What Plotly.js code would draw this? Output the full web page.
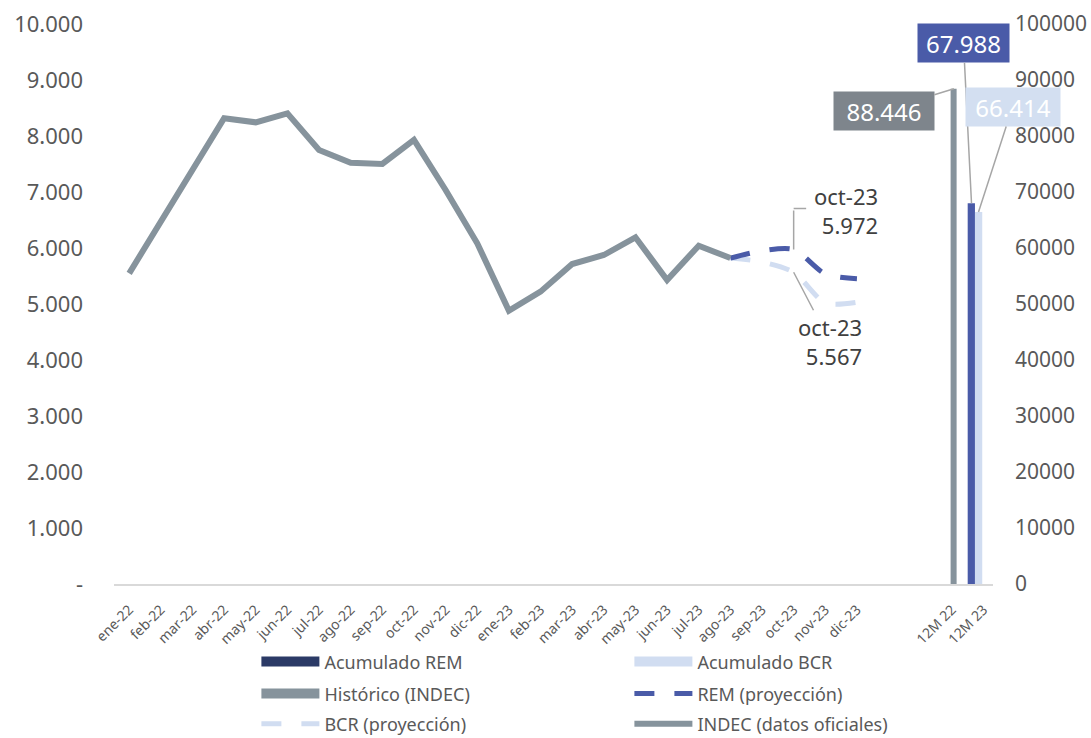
<!DOCTYPE html>
<html>
<head>
<meta charset="utf-8">
<script src="https://cdn.plot.ly/plotly-3.0.1.min.js"></script>
<style>
  html, body { margin: 0; padding: 0; background: #ffffff; }
  #chart { width: 1091px; height: 738px; }
</style>
</head>
<body>
<div id="chart"></div>
<script>
// ---------- data ----------
const months = ['ene-22','feb-22','mar-22','abr-22','may-22','jun-22','jul-22','ago-22','sep-22','oct-22','nov-22','dic-22',
                'ene-23','feb-23','mar-23','abr-23','may-23','jun-23','jul-23','ago-23','sep-23','oct-23','nov-23','dic-23'];
const gapCategories = [' ', '  '];
const barCategories = ['12M 22', '12M 23'];

const indecMonths = ['ene-22','feb-22','mar-22','abr-22','may-22','jun-22','jul-22','ago-22','sep-22','oct-22','nov-22','dic-22',
                     'ene-23','feb-23','mar-23','abr-23','may-23','jun-23','jul-23','ago-23'];
const indecValues = [5548, 6460, 7393, 8316, 8244, 8405, 7750, 7523, 7500, 7929, 7036, 6084,
                     4880, 5220, 5714, 5875, 6191, 5429, 6041, 5820];

const projMonths = ['ago-23','sep-23','oct-23','nov-23','dic-23'];
const remValues = [5820, 5950, 5972, 5536, 5450];
const bcrValues = [5820, 5750, 5567, 5020, 5030];

const historicoValues = [88446, null];
const acumREMValues  = [null, 67988];
const acumBCRValues  = [null, 66414];

const leftTickVals = [0, 1000, 2000, 3000, 4000, 5000, 6000, 7000, 8000, 9000, 10000];
const leftTickText = ['-', '1.000', '2.000', '3.000', '4.000', '5.000', '6.000', '7.000', '8.000', '9.000', '10.000'];
const rightTickVals = [0, 10000, 20000, 30000, 40000, 50000, 60000, 70000, 80000, 90000, 100000];

// ---------- helpers ----------
function fmt(v) { return String(v).replace(/\B(?=(\d{3})+(?!\d))/g, '.'); }

const C_GRAY = '#86939c';
const C_BLUE = '#4a5ba8';
const C_NAVY = '#2b3a66';
const C_LIGHT = '#d1ddf1';
const FONT = 'Noto Sans, Open Sans, sans-serif';

const traces = [
  // bars (right axis)
  { type: 'bar', name: 'Histórico (INDEC)', x: barCategories, y: historicoValues, yaxis: 'y2',
    marker: { color: C_GRAY }, offset: -0.04, width: 0.19, showlegend: false, hoverinfo: 'skip' },
  { type: 'bar', name: 'Acumulado REM', x: barCategories, y: acumREMValues, yaxis: 'y2',
    marker: { color: C_BLUE }, offset: -0.5, width: 0.23, showlegend: false, hoverinfo: 'skip' },
  { type: 'bar', name: 'Acumulado BCR', x: barCategories, y: acumBCRValues, yaxis: 'y2',
    marker: { color: C_LIGHT }, offset: -0.27, width: 0.23, showlegend: false, hoverinfo: 'skip' },

  // lines (left axis)
  { type: 'scatter', mode: 'lines', name: 'BCR (proyección)', x: projMonths, y: bcrValues,
    line: { color: C_LIGHT, width: 5, dash: '20px,20px', shape: 'spline', smoothing: 0.8 },
    legend: 'legend3', legendrank: 1, hoverinfo: 'skip' },
  { type: 'scatter', mode: 'lines', name: 'REM (proyección)', x: projMonths, y: remValues,
    line: { color: C_BLUE, width: 5, dash: '20px,20px', shape: 'spline', smoothing: 0.8 },
    legend: 'legend2', legendrank: 2, hoverinfo: 'skip' },
  { type: 'scatter', mode: 'lines', name: 'INDEC (datos oficiales)', x: indecMonths, y: indecValues,
    line: { color: C_GRAY, width: 6 }, legend: 'legend3', legendrank: 2, hoverinfo: 'skip' },

  // legend swatches for the bar series (wide rectangles, as in the reference)
  { type: 'scatter', mode: 'lines', name: 'Acumulado REM', x: [null], y: [null],
    line: { color: C_NAVY, width: 10 }, legend: 'legend', legendrank: 1, hoverinfo: 'skip' },
  { type: 'scatter', mode: 'lines', name: 'Acumulado BCR', x: [null], y: [null],
    line: { color: C_LIGHT, width: 10 }, legend: 'legend', legendrank: 2, hoverinfo: 'skip' },
  { type: 'scatter', mode: 'lines', name: 'Histórico (INDEC)', x: [null], y: [null],
    line: { color: C_GRAY, width: 10 }, legend: 'legend2', legendrank: 1, hoverinfo: 'skip' }
];

const octIdx = projMonths.indexOf('oct-23');
const boxFont = { family: FONT, size: 24, color: '#ffffff' };
const lblFont = { family: FONT, size: 22, color: '#404040' };
const leader = { showarrow: true, arrowhead: 0, arrowwidth: 1.5, arrowcolor: '#a6a6a6', standoff: 0 };

const annotations = [
  // bar value boxes
  Object.assign({
    x: barCategories[0], y: historicoValues[0], xref: 'x', yref: 'y2', xshift: 2,
    text: fmt(historicoValues[0]), font: boxFont, bgcolor: '#7e858c', borderpad: 1, width: 98, height: 36,
    ax: -70, ay: 22 }, leader),
  Object.assign({
    x: barCategories[1], y: acumREMValues[1], xref: 'x', yref: 'y2', xshift: -12,
    text: fmt(acumREMValues[1]), font: boxFont, bgcolor: C_BLUE, borderpad: 1, width: 89, height: 36,
    ax: -8, ay: -160 }, leader),
  Object.assign({
    x: barCategories[1], y: acumBCRValues[1], xref: 'x', yref: 'y2', xshift: -5,
    text: fmt(acumBCRValues[1]), font: boxFont, bgcolor: '#d3dff1', borderpad: 1, width: 92, height: 36,
    ax: 34, ay: -105 }, leader),
  // REM oct-23 label with elbow leader
  Object.assign({
    x: projMonths[octIdx], y: remValues[octIdx], xref: 'x', yref: 'y',
    text: ' ', font: { size: 1 }, ax: 0, ay: -41 }, leader),
  Object.assign({
    x: projMonths[octIdx], y: remValues[octIdx], xref: 'x', yref: 'y', yshift: 41,
    text: ' ', font: { size: 1 }, ax: 14, ay: 0 }, leader),
  {
    x: projMonths[octIdx], y: remValues[octIdx], xref: 'x', yref: 'y', xshift: 52, yshift: 39,
    text: projMonths[octIdx] + '<br>' + fmt(remValues[octIdx]), font: lblFont, align: 'right', showarrow: false
  },
  // BCR oct-23 label
  Object.assign({
    x: projMonths[octIdx], y: bcrValues[octIdx], xref: 'x', yref: 'y',
    text: projMonths[octIdx] + '<br>' + fmt(bcrValues[octIdx]), font: lblFont, align: 'right',
    ax: 36, ay: 69 }, leader)
];

const legendBase = {
  orientation: 'h',
  x: 0.162, xanchor: 'left', yanchor: 'top',
  entrywidth: 300, entrywidthmode: 'pixels',
  itemwidth: 58,
  traceorder: 'normal',
  font: { family: FONT, size: 18, color: '#595959' },
  bgcolor: 'rgba(0,0,0,0)'
};

const layout = {
  width: 1091, height: 738,
  margin: { l: 114, r: 98, t: 24, b: 154, pad: 0, autoexpand: false },
  paper_bgcolor: '#ffffff', plot_bgcolor: '#ffffff',
  font: { family: FONT, color: '#595959' },
  showlegend: true,
  barmode: 'overlay',
  xaxis: {
    type: 'category',
    categoryorder: 'array',
    categoryarray: months.concat(gapCategories, barCategories),
    range: [-0.48, 27.3],
    tickangle: -45,
    tickfont: { family: FONT, size: 14, color: '#595959' },
    showline: true, linecolor: '#d9d9d9', linewidth: 2,
    showgrid: false, zeroline: false, ticks: '', ticklabelstandoff: 10, automargin: false
  },
  yaxis: {
    range: [0, 10000],
    tickmode: 'array', tickvals: leftTickVals, ticktext: leftTickText,
    tickfont: { family: FONT, size: 22, color: '#595959' },
    showgrid: false, zeroline: false, showline: false, ticks: '', ticklabelstandoff: 30, automargin: false
  },
  yaxis2: {
    overlaying: 'y', side: 'right',
    range: [0, 100000],
    tickmode: 'array', tickvals: rightTickVals, tickformat: 'd',
    tickfont: { family: FONT, size: 21, color: '#595959' },
    showgrid: false, zeroline: false, showline: false, ticks: '', ticklabelstandoff: 21, automargin: false
  },
  legend:  Object.assign({}, legendBase, { y: -0.106 }),
  legend2: Object.assign({}, legendBase, { y: -0.163 }),
  legend3: Object.assign({}, legendBase, { y: -0.217 }),
  annotations: annotations
};

Plotly.newPlot('chart', traces, layout, { displayModeBar: false, staticPlot: true });
</script>
</body>
</html>
